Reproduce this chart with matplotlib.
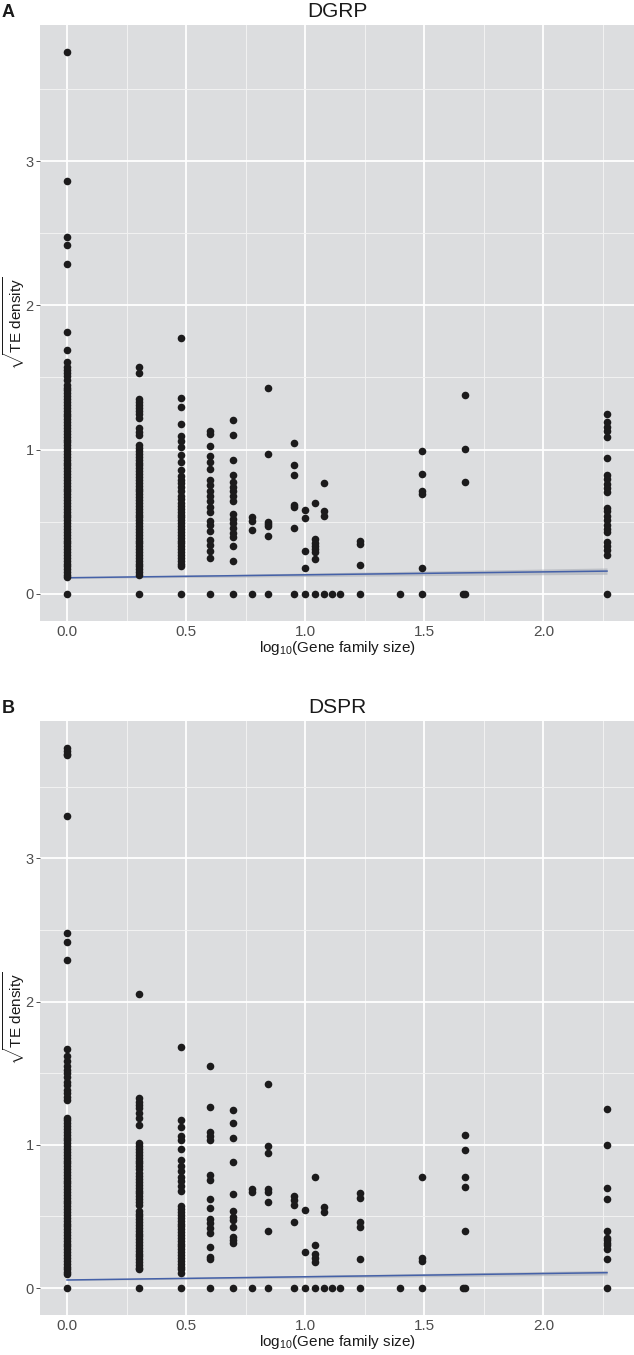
import numpy as np
import matplotlib
matplotlib.use('Agg')
from matplotlib import pyplot as plt

plt.rcParams['font.family'] = ['Liberation Sans', 'DejaVu Sans']
plt.rcParams['mathtext.fontset'] = 'custom'
plt.rcParams['mathtext.rm'] = 'Liberation Sans'
plt.rcParams['mathtext.it'] = 'Liberation Sans:italic'

# gene family sizes present (x = log10 of these)
family_sizes = [1, 2, 3, 4, 5, 6, 7, 9, 10, 11, 12, 13, 14, 17, 25, 31, 46, 47, 185]

# sqrt(TE density) per gene family size, DGRP
dgrp_1 = [3.755, 2.861, 2.474, 2.417, 2.287, 1.815, 1.69, 1.61, 1.57, 1.55, 1.53, 1.51, 1.48,
          1.45, 1.43, 1.41, 1.39, 1.37, 1.35, 1.33, 1.31, 1.29, 1.27, 1.25, 1.23, 1.21, 1.19,
          1.17, 1.15, 1.13, 1.11, 1.09, 1.07, 1.05, 1.03, 1.01, 0.99, 0.97, 0.95, 0.93, 0.91,
          0.89, 0.87, 0.85, 0.83, 0.81, 0.79, 0.77, 0.75, 0.73, 0.71, 0.69, 0.67, 0.65, 0.63,
          0.61, 0.59, 0.57, 0.55, 0.53, 0.51, 0.49, 0.47, 0.45, 0.43, 0.41, 0.39, 0.37, 0.35,
          0.33, 0.31, 0.29, 0.27, 0.25, 0.23, 0.21, 0.19, 0.17, 0.15, 0.13, 0.115, 0.0]
dgrp_2 = [1.576, 1.53, 1.35, 1.33, 1.31, 1.29, 1.27, 1.25, 1.22, 1.15, 1.12, 1.10,
          1.03, 1.01, 0.99, 0.97, 0.95, 0.93, 0.91, 0.89, 0.87, 0.85, 0.83, 0.81, 0.79, 0.77,
          0.75, 0.73, 0.71, 0.69, 0.67, 0.65, 0.63, 0.61, 0.59, 0.57, 0.55, 0.53, 0.51, 0.49,
          0.47, 0.45, 0.43, 0.41, 0.39, 0.37, 0.35, 0.33, 0.31, 0.29, 0.27, 0.25, 0.23, 0.21,
          0.19, 0.17, 0.15, 0.13, 0.0]
dgrp_3 = [1.776, 1.358, 1.292, 1.176, 1.097, 1.062, 1.016, 0.965, 0.912, 0.86, 0.82, 0.79,
          0.766, 0.74, 0.71, 0.68, 0.66, 0.63, 0.61, 0.59, 0.57, 0.55, 0.53, 0.51, 0.49, 0.47,
          0.45, 0.43, 0.41, 0.39, 0.37, 0.35, 0.33, 0.31, 0.29, 0.27, 0.25, 0.23, 0.21, 0.19,
          0.0]
dgrp_4 = [1.132, 1.109, 1.023, 0.958, 0.912, 0.866, 0.792, 0.757, 0.711, 0.681, 0.646, 0.60,
          0.565, 0.507, 0.479, 0.438, 0.373, 0.340, 0.294, 0.248, 0.0]
dgrp_5 = [1.206, 1.102, 0.928, 0.826, 0.773, 0.743, 0.715, 0.681, 0.646, 0.553, 0.519, 0.488,
          0.454, 0.421, 0.391, 0.333, 0.229, 0.0]
dgrp_6 = [0.535, 0.507, 0.442, 0.0]
dgrp_7 = [1.428, 0.970, 0.495, 0.484, 0.472, 0.403, 0.0]
dgrp_9 = [1.048, 0.896, 0.826, 0.618, 0.60, 0.456, 0.0]
dgrp_10 = [0.581, 0.526, 0.299, 0.178, 0.0]
dgrp_11 = [0.627, 0.380, 0.356, 0.333, 0.31, 0.287, 0.241, 0.0]
dgrp_12 = [0.769, 0.576, 0.537, 0.0]
dgrp_13 = [0.0]
dgrp_14 = [0.0]
dgrp_17 = [0.366, 0.347, 0.197, 0.0]
dgrp_25 = [0.0]
dgrp_31 = [0.993, 0.833, 0.713, 0.694, 0.181, 0.0]
dgrp_46 = [0.0]
dgrp_47 = [1.38, 1.002, 0.775, 0.0]
dgrp_185 = [1.248, 1.19, 1.16, 1.13, 1.088, 0.945, 0.824, 0.794, 0.764, 0.736, 0.708, 0.597,
            0.574, 0.539, 0.509, 0.481, 0.451, 0.428, 0.361, 0.331, 0.301, 0.268, 0.0]

# DSPR
dspr_1 = [3.77, 3.75, 3.73, 3.72, 3.296, 2.475, 2.417, 2.287, 1.669, 1.618, 1.583, 1.553,
          1.52, 1.50, 1.47, 1.44, 1.42, 1.38, 1.36, 1.33, 1.31,
          1.19, 1.17, 1.15, 1.13, 1.11, 1.09, 1.07, 1.05, 1.03, 1.01, 0.99, 0.97, 0.95, 0.93,
          0.91, 0.89, 0.87, 0.85, 0.83, 0.81, 0.79, 0.77, 0.75, 0.73, 0.71, 0.69, 0.67, 0.65,
          0.63, 0.61, 0.59, 0.57, 0.55, 0.53, 0.51, 0.49, 0.47, 0.45, 0.43, 0.41, 0.39, 0.37,
          0.35, 0.33, 0.31, 0.29, 0.27, 0.25, 0.23, 0.21, 0.19, 0.17, 0.15, 0.13, 0.11, 0.10,
          0.0]
dspr_2 = [2.056, 1.327, 1.30, 1.28, 1.257, 1.222, 1.187, 1.14,
          1.01, 0.99, 0.97, 0.95, 0.93, 0.91, 0.89, 0.87, 0.85, 0.83, 0.80, 0.78, 0.76, 0.74,
          0.72, 0.70, 0.68, 0.66, 0.64, 0.62, 0.60, 0.58, 0.54, 0.52, 0.50, 0.48, 0.46, 0.44,
          0.42, 0.40, 0.38, 0.36, 0.34, 0.32, 0.30, 0.28, 0.26, 0.24, 0.22, 0.20, 0.18, 0.16,
          0.14, 0.13, 0.0]
dspr_3 = [1.683, 1.176, 1.122, 1.059, 1.031, 0.97, 0.896, 0.849, 0.814, 0.774, 0.744, 0.709,
          0.674, 0.57, 0.55, 0.53, 0.51, 0.49, 0.47, 0.45, 0.43, 0.41, 0.39, 0.37, 0.35, 0.33,
          0.31, 0.29, 0.27, 0.25, 0.23, 0.21, 0.19, 0.17, 0.15, 0.13, 0.103, 0.0]
dspr_4 = [1.553, 1.264, 1.087, 1.059, 1.031, 0.791, 0.751, 0.62, 0.557, 0.48, 0.452, 0.417,
          0.382, 0.289, 0.219, 0.20, 0.0]
dspr_5 = [1.245, 1.152, 1.047, 0.877, 0.653, 0.541, 0.499, 0.475, 0.429, 0.359, 0.336, 0.317, 0.0]
dspr_6 = [0.69, 0.672, 0.0]
dspr_7 = [1.423, 0.994, 0.942, 0.69, 0.667, 0.601, 0.401, 0.0]
dspr_9 = [0.639, 0.611, 0.58, 0.459, 0.0]
dspr_10 = [0.545, 0.254, 0.0]
dspr_11 = [0.774, 0.297, 0.239, 0.209, 0.179, 0.0]
dspr_12 = [0.566, 0.534, 0.0]
dspr_13 = [0.0]
dspr_14 = [0.0]
dspr_17 = [0.661, 0.631, 0.461, 0.428, 0.20, 0.0]
dspr_25 = [0.0]
dspr_31 = [0.776, 0.207, 0.19, 0.0]
dspr_46 = [0.0]
dspr_47 = [1.069, 0.964, 0.777, 0.705, 0.397, 0.0]
dspr_185 = [1.253, 0.996, 0.70, 0.618, 0.397, 0.35, 0.334, 0.315, 0.297, 0.273, 0.20, 0.0]

# linear fit (value at smallest / largest x) and its CI half-width
dgrp_fit = [0.112, 0.158]
dgrp_ci = [0.004, 0.022]
dspr_fit = [0.056, 0.107]
dspr_ci = [0.003, 0.016]

dgrp_cols = [dgrp_1, dgrp_2, dgrp_3, dgrp_4, dgrp_5, dgrp_6, dgrp_7, dgrp_9, dgrp_10, dgrp_11,
             dgrp_12, dgrp_13, dgrp_14, dgrp_17, dgrp_25, dgrp_31, dgrp_46, dgrp_47, dgrp_185]
dspr_cols = [dspr_1, dspr_2, dspr_3, dspr_4, dspr_5, dspr_6, dspr_7, dspr_9, dspr_10, dspr_11,
             dspr_12, dspr_13, dspr_14, dspr_17, dspr_25, dspr_31, dspr_46, dspr_47, dspr_185]

W, H = 634, 1355
fig = plt.figure(figsize=(W / 100, H / 100), dpi=100)

bg = '#DCDDDF'
txt = '#4D4D4D'


def panel(top, bottom, cols, fit, ci, title, letter):
    ax = fig.add_axes([40 / W, 1 - bottom / H, (W - 40) / W, (bottom - top) / H])
    ax.set_facecolor(bg)
    for s in ax.spines.values():
        s.set_visible(False)

    xs, ys = [], []
    for n, vals in zip(family_sizes, cols):
        xs += [np.log10(n)] * len(vals)
        ys += vals
    xs = np.array(xs)
    ys = np.array(ys)

    xl = [xs.min(), xs.max()]
    lo = [f - c for f, c in zip(fit, ci)]
    hi = [f + c for f, c in zip(fit, ci)]
    ax.fill_between(xl, lo, hi, color='#A9ADB6', alpha=0.6, lw=0, zorder=2)
    ax.plot(xl, fit, color='#4561A8', lw=1.1, zorder=3)
    ax.scatter(xs, ys, s=30, color='#1C1B1C', lw=0, zorder=4)

    xr = xs.max() - xs.min()
    yr = ys.max() - ys.min()
    ax.set_xlim(xs.min() - 0.05 * xr, xs.max() + 0.05 * xr)
    ax.set_ylim(ys.min() - 0.05 * yr, ys.max() + 0.05 * yr)

    ax.set_xticks([0, 0.5, 1, 1.5, 2])
    ax.set_xticklabels(['0.0', '0.5', '1.0', '1.5', '2.0'])
    ax.set_xticks([0.25, 0.75, 1.25, 1.75, 2.25], minor=True)
    ax.set_yticks([0, 1, 2, 3])
    ax.set_yticks([0.5, 1.5, 2.5, 3.5], minor=True)
    ax.grid(which='major', color='white', lw=1.3, zorder=0)
    ax.grid(which='minor', color='#F2F2F2', lw=0.7, zorder=0)
    ax.set_axisbelow(True)
    ax.tick_params(axis='x', which='both', length=0, pad=3, labelsize=11, labelcolor=txt)
    ax.tick_params(axis='y', which='major', length=3, width=0.6, color='#333333', pad=1.5,
                   labelsize=10.5, labelcolor=txt)
    ax.tick_params(axis='y', which='minor', length=0)
    ax.set_xlabel(r'log$_{10}$(Gene family size)', fontsize=11, color='#1a1a1a', labelpad=0)

    fig.text(337 / W, 1 - (top - 8) / H, title, fontsize=15, color='#1a1a1a',
             ha='center', va='baseline')
    fig.text(2 / W, 1 - (top - 8) / H, letter, fontsize=13, fontweight='bold',
             color='#1a1a1a', ha='left', va='baseline')
    fig.text(14 / W, 1 - ((top + bottom) / 2) / H, r'$\sqrt{\mathrm{TE\ density}}$',
             fontsize=11, color='#1a1a1a', rotation=90, ha='center', va='center')
    return ax


panel(25, 621, dgrp_cols, dgrp_fit, dgrp_ci, 'DGRP', 'A')
panel(721, 1315, dspr_cols, dspr_fit, dspr_ci, 'DSPR', 'B')

fig.savefig('out.png', dpi=100, facecolor='white')
